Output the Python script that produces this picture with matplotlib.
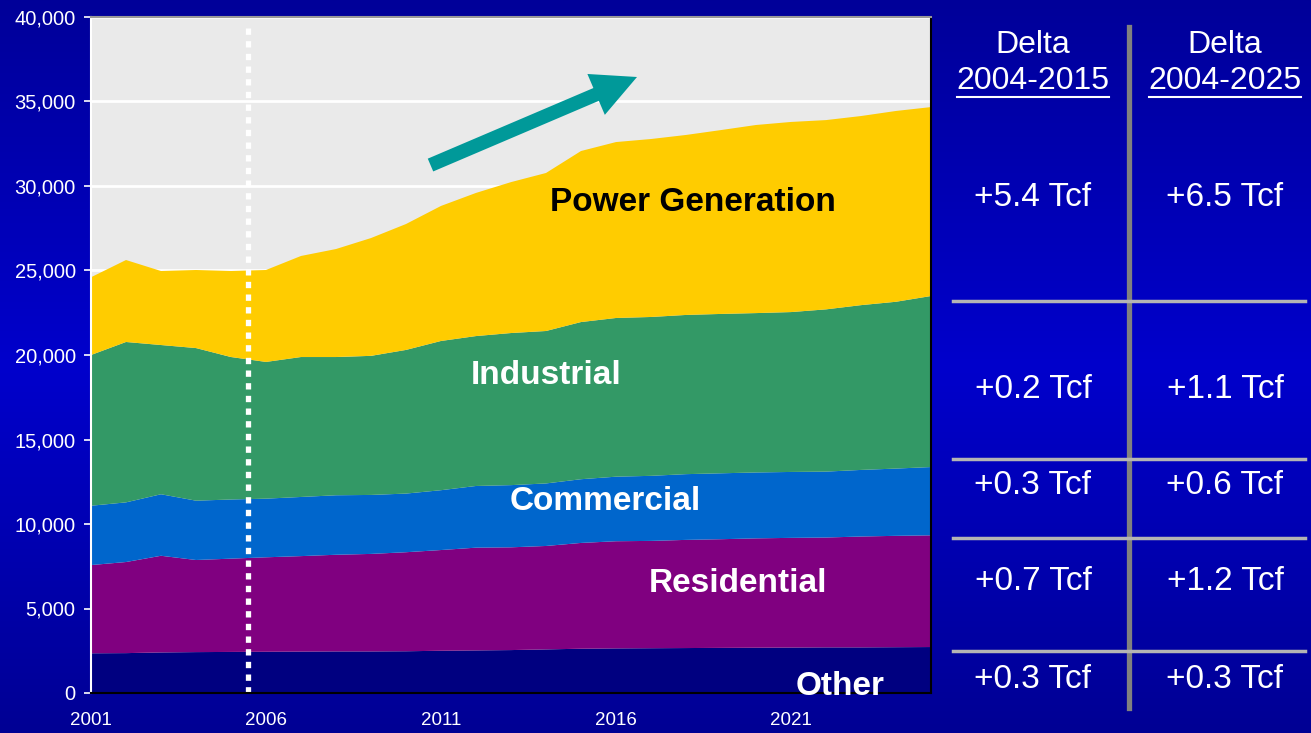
import numpy as np
import matplotlib.pyplot as plt
from matplotlib.lines import Line2D
from matplotlib.colors import LinearSegmentedColormap

plt.rcParams['font.family'] = ['Liberation Sans', 'DejaVu Sans']

# natural gas consumption by sector (stack layers), 2001-2025
years = list(range(2001, 2026))
other = [2350, 2360, 2400, 2420, 2430, 2440, 2450, 2460, 2460, 2470, 2500, 2520, 2540,
         2580, 2620, 2640, 2650, 2660, 2670, 2680, 2690, 2700, 2700, 2710, 2720]
residential = [5220, 5390, 5720, 5450, 5520, 5590, 5650, 5720, 5770, 5860, 5960, 6080, 6080,
               6120, 6260, 6340, 6350, 6400, 6430, 6470, 6490, 6500, 6560, 6590, 6610]
commercial = [3510, 3530, 3640, 3510, 3500, 3470, 3500, 3520, 3490, 3470, 3540, 3650, 3680,
              3700, 3770, 3820, 3850, 3890, 3900, 3900, 3900, 3900, 3940, 3980, 4040]
industrial = [8920, 9490, 8830, 9030, 8430, 8090, 8280, 8180, 8230, 8500, 8830, 8870, 9000,
              9020, 9300, 9390, 9400, 9420, 9430, 9430, 9460, 9600, 9750, 9870, 10120]
power = [4600, 4850, 4380, 4620, 5090, 5440, 5980, 6390, 6970, 7450, 7990, 8470, 8930,
         9350, 10120, 10410, 10530, 10650, 10880, 11130, 11250, 11200, 11190, 11290, 11180]

xlabels = [2001, 2006, 2011, 2016, 2021]
yticks = list(range(0, 40001, 5000))

# delta table
col_heads = ['2004-2015', '2004-2025']
delta_1 = ['+5.4 Tcf', '+0.2 Tcf', '+0.3 Tcf', '+0.7 Tcf', '+0.3 Tcf']
delta_2 = ['+6.5 Tcf', '+1.1 Tcf', '+0.6 Tcf', '+1.2 Tcf', '+0.3 Tcf']

W, H = 1311, 733
fig = plt.figure(figsize=(W / 100, H / 100), dpi=100)

# blue gradient background
bg = fig.add_axes([0, 0, 1, 1], zorder=-10)
cmap = LinearSegmentedColormap.from_list('bg', [(0, (0, 0, 0.6)), (0.5, (0, 0, 0.8)), (1, (0, 0, 0.58))])
bg.imshow(np.linspace(0, 1, 256).reshape(-1, 1), aspect='auto', cmap=cmap, extent=[0, 1, 0, 1])
bg.set_axis_off()

ax = fig.add_axes([91 / W, 40 / H, 840 / W, 676 / H])
ax.set_facecolor('#EAEAEA')
ax.stackplot(years, other, residential, commercial, industrial, power,
             colors=['#000080', '#800080', '#0066CC', '#339966', '#FFCC00'], linewidth=0, zorder=2)
ax.set_xlim(2001, 2025)
ax.set_ylim(0, 40000)
ax.set_yticks(yticks)
ax.set_yticklabels([f'{v:,}' for v in yticks])
ax.yaxis.grid(True, color='white', linewidth=2, zorder=1)
ax.set_axisbelow(True)
ax.set_xticks(xlabels)
ax.set_xticklabels([str(x) for x in xlabels])
ax.set_xticks(np.arange(2001, 2025.01, 0.5), minor=True)
ax.tick_params(axis='y', colors='white', labelsize=14.5, length=5, width=1.2, direction='out', pad=6)
ax.tick_params(axis='x', which='both', direction='in', length=6, width=1.2, color='black',
               labelcolor='white', labelsize=13.5, pad=14)
for s in ['bottom', 'right']:
    ax.spines[s].set_color('black')
ax.spines['top'].set_color('#999999')
ax.spines['left'].set_color('white')
for s in ax.spines.values():
    s.set_linewidth(1.5)
    s.set_zorder(5)

# 2005.5 divider
ax.plot([2005.5, 2005.5], [0, 39600], color='white', lw=3.8, ls=(0, (1.2, 1.2)), zorder=4)

# trend arrow
ax.annotate('', xy=(2016.6, 36450), xytext=(2010.7, 31240),
            arrowprops=dict(facecolor='#009999', edgecolor='none', width=10, headwidth=32, headlength=32),
            zorder=6)

lab = dict(fontsize=24, fontweight='bold', ha='center', va='center', zorder=6)
ax.text(2018.2, 29050, 'Power Generation', color='black', **lab)
ax.text(2014.0, 18760, 'Industrial', color='white', **lab)
ax.text(2015.7, 11360, 'Commercial', color='white', **lab)
ax.text(2019.5, 6450, 'Residential', color='white', **lab)
ax.text(2022.4, 414, 'Other', color='white', **lab)

# table on the right
def fx(px):
    return px / W

def fy(py):
    return 1 - py / H

fig.add_artist(Line2D([fx(1129), fx(1129)], [fy(27), fy(708)], color='#808080', lw=3.8))
for py in [301, 459, 538, 651]:
    fig.add_artist(Line2D([fx(953), fx(1305)], [fy(py), fy(py)], color='#B4B4B4', lw=2.5))

col_x = [1033, 1225]
row_y = [198, 389, 486, 581, 679]
for cx, head, vals in zip(col_x, col_heads, [delta_1, delta_2]):
    fig.text(fx(cx), fy(45), 'Delta', color='white', fontsize=23, ha='center', va='center')
    fig.text(fx(cx), fy(81), head, color='white', fontsize=23, ha='center', va='center')
    fig.add_artist(Line2D([fx(cx - 76), fx(cx + 76)], [fy(97), fy(97)], color='white', lw=1.5))
    for ry, v in zip(row_y, vals):
        fig.text(fx(cx), fy(ry), v, color='white', fontsize=24, ha='center', va='center')

fig.savefig('out.png', dpi=100)
